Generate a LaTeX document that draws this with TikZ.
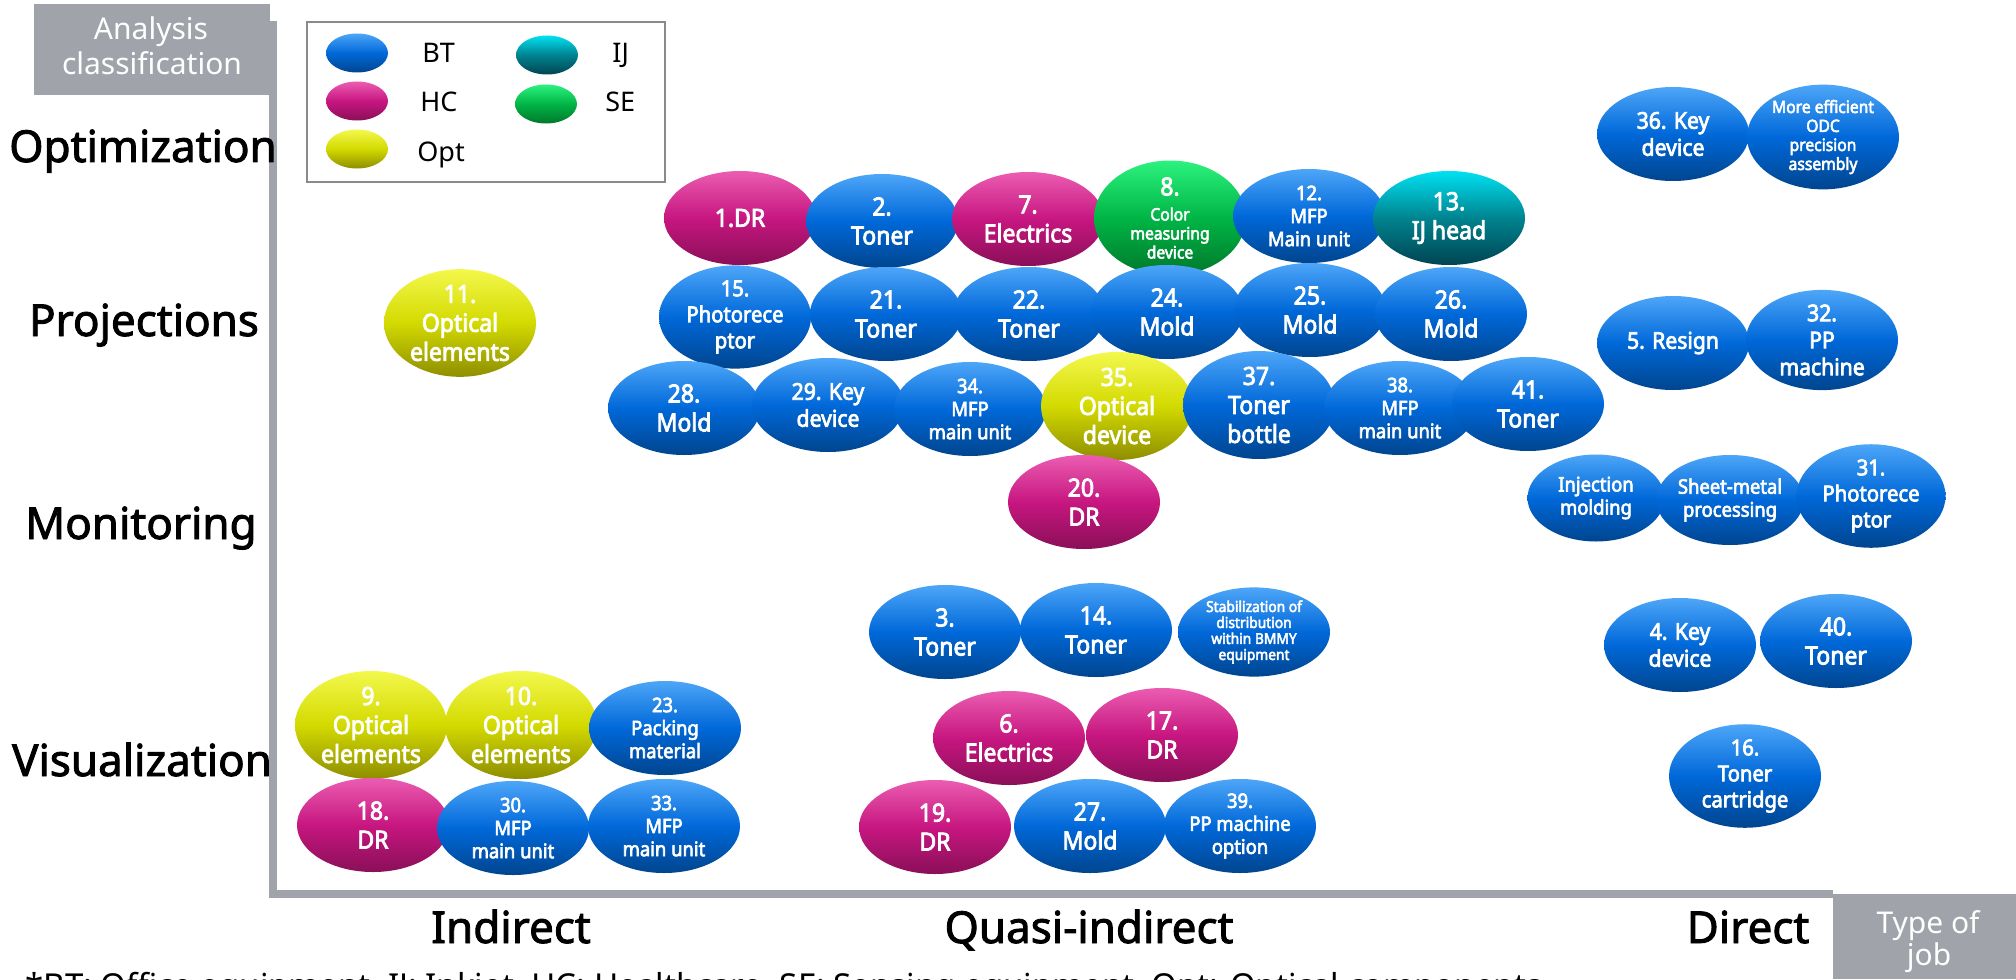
\documentclass[tikz,border=0pt]{standalone}
\usepackage{fontspec}
\setmainfont{Noto Sans}
\newfontfamily\labf[FakeBold=2]{Noto Sans}
\newfontfamily\bubf[FakeStretch=0.92,FakeBold=3.2]{Noto Sans}
\usetikzlibrary{shapes.geometric}

% gradient colours (top / middle / bottom)
\definecolor{btT}{HTML}{4DA6F8}\definecolor{btM}{HTML}{0068D9}\definecolor{btB}{HTML}{00458F}
\definecolor{hcT}{HTML}{EB5DB1}\definecolor{hcM}{HTML}{C71680}\definecolor{hcB}{HTML}{8A0F58}
\definecolor{opT}{HTML}{F3F84C}\definecolor{opM}{HTML}{D3DA00}\definecolor{opB}{HTML}{8E8E00}
\definecolor{seT}{HTML}{2CF27F}\definecolor{seM}{HTML}{00B545}\definecolor{seB}{HTML}{00782C}
\definecolor{ijT}{HTML}{00E1F2}\definecolor{ijM}{HTML}{00838F}\definecolor{ijB}{HTML}{004452}
\definecolor{axg}{HTML}{A0A3AA}
\definecolor{legline}{HTML}{8A8A8A}

\tikzset{
  bub/.style={ellipse, minimum width=76pt, minimum height=47pt, inner sep=0pt,
    align=center, text=white, font=\bubf\fontsize{12.5}{14.5}\selectfont},
  bt/.style={bub, top color=btT, bottom color=btB, middle color=btM},
  hc/.style={bub, top color=hcT, bottom color=hcB, middle color=hcM},
  opt/.style={bub, top color=opT, bottom color=opB, middle color=opM},
  se/.style={bub, top color=seT, bottom color=seB, middle color=seM},
  ij/.style={bub, top color=ijT, bottom color=ijB, middle color=ijM},
  fsA/.style={font=\bubf\fontsize{11.5}{13.5}\selectfont},
  fsB/.style={font=\bubf\fontsize{11}{13}\selectfont},
  fsC/.style={font=\bubf\fontsize{10}{11.5}\selectfont},
  fsD/.style={font=\bubf\fontsize{8.5}{9.5}\selectfont},
  fsE/.style={font=\bubf\fontsize{7.5}{8}\selectfont},
  legdot/.style={minimum width=31pt, minimum height=19.5pt},
  leglab/.style={anchor=base west, inner sep=0pt, font=\fontsize{13.5}{16}\selectfont},
  rowlab/.style={anchor=base, inner sep=0pt, font=\labf\fontsize{22}{26}\selectfont},
  graylab/.style={anchor=base, inner sep=0pt, text=white, font=\fontsize{15}{18}\selectfont},
}

\begin{document}
\begin{tikzpicture}[x=0.5pt, y=-0.5pt]
\useasboundingbox (0,0) rectangle (2016,979);
\fill[white] (0,0) rectangle (2016,979);

% axes and corner labels
\fill[axg] (269,21) rectangle (277,898);
\fill[axg] (269,890) rectangle (1833,898);
\fill[axg] (34,4) rectangle (270,95);
\fill[axg] (1833,894) rectangle (2016,979);
\node[graylab] (ac1) at (151,40) {Analysis};
\node[graylab] (ac2) at (152,75) {classification};
\node[graylab] (tj1) at (1928,933) {Type of};
\node[graylab] (tj2) at (1929,965) {job};

% row labels
\node[rowlab] (lOpt) at (143,162) {Optimization};
\node[rowlab] (lPro) at (144,336) {Projections};
\node[rowlab] (lMon) at (141,539) {Monitoring};
\node[rowlab] (lVis) at (142,776) {Visualization};

% column labels
\node[rowlab] (cInd) at (511,943) {Indirect};
\node[rowlab] (cQua) at (1089,943) {Quasi-indirect};
\node[rowlab] (cDir) at (1748,943) {Direct};

% legend
\draw[legline, line width=1pt] (307,22) rectangle (665,182);
\node[bt, legdot] (kBT) at (357,53) {};
\node[hc, legdot] (kHC) at (357,101) {};
\node[opt, legdot] (kOp) at (357,149) {};
\node[ij, legdot] (kIJ) at (547,55) {};
\node[se, legdot] (kSE) at (546,104) {};
\node[leglab] (tBT) at (422,63) {BT};
\node[leglab] (tHC) at (420,112) {HC};
\node[leglab] (tOp) at (417,161) {Opt};
\node[leglab] (tIJ) at (612,63) {IJ};
\node[leglab] (tSE) at (605,112) {SE};

% optimization row
\node[hc] (n1) at (740,218) {1.DR};
\node[bt] (n2) at (882,221) {2.\\Toner};
\node[hc] (n7) at (1028,219) {7.\\Electrics};
\node[se, fsD] (n8) at (1170,218) {{\fontsize{12.5}{14.5}\selectfont 8.}\\[3pt]Color\\measuring\\device};
\node[bt, fsC] (n12) at (1309,216) {12.\\MFP\\Main unit};
\node[ij] (n13) at (1449,218) {13.\\IJ head};

\node[bt, fsA] (n36) at (1673,134) {36. Key\\device};
\node[bt, fsD] (nODC) at (1823,137) {More efficient\\ODC\\precision\\assembly};

% projections rows
\node[opt] (n11) at (460,323) {11.\\Optical\\elements};
\node[bt, fsB] (n15) at (735,317) {15.\\Photorece\\ptor};
\node[bt] (n21) at (886,314) {21.\\Toner};
\node[bt] (n22) at (1029,314) {22.\\Toner};
\node[bt] (n24) at (1167,312) {24.\\Mold};
\node[bt] (n25) at (1310,310) {25.\\Mold};
\node[bt] (n26) at (1451,314) {26.\\Mold};

\node[bt] (n28) at (684,408) {28.\\Mold};
\node[bt, fsA] (n29) at (828,405) {29. Key\\device};
\node[bt, fsC] (n34) at (970,409) {34.\\MFP\\main unit};
\node[opt] (n35) at (1117,406) {35.\\Optical\\device};
\node[bt] (n37) at (1259,405) {37.\\Toner\\bottle};
\node[bt, fsC] (n38) at (1400,408) {38.\\MFP\\main unit};
\node[bt] (n41) at (1528,404) {41.\\Toner};

\node[bt, fsA] (n5) at (1673,343) {5. Resign};
\node[bt, fsA] (n32) at (1822,340) {32.\\PP\\machine};

% monitoring row
\node[hc] (n20) at (1084,502) {20.\\DR};
\node[bt, fsC, minimum width=68.5pt, minimum height=43.5pt] (nInj) at (1596,498) {Injection\\molding};
\node[bt, fsC, minimum width=73pt, minimum height=45pt] (nShe) at (1730,500) {Sheet-metal\\processing};
\node[bt, fsB, minimum width=74.5pt] (n31) at (1871,496) {31.\\Photorece\\ptor};

% visualization rows
\node[bt] (n3) at (945,632) {3.\\Toner};
\node[bt] (n14) at (1096,630) {14.\\Toner};
\node[bt, fsE, minimum height=43.5pt] (nSta) at (1254,632) {Stabilization of\\distribution\\within BMMY\\equipment};
\node[bt, fsA] (n4) at (1680,645) {4. Key\\device};
\node[bt] (n40) at (1836,641) {40.\\Toner};

\node[opt] (n9) at (371,725) {9.\\Optical\\elements};
\node[opt] (n10) at (521,725) {10.\\Optical\\elements};
\node[bt, fsC] (n23) at (665,728) {23.\\Packing\\material};
\node[hc] (n6) at (1009,738) {6.\\Electrics};
\node[hc] (n17) at (1162,735) {17.\\DR};
\node[bt, fsB] (n16) at (1745,776) {16.\\Toner\\cartridge};

\node[hc] (n18) at (373,825) {18.\\DR};
\node[bt, fsC] (n30) at (513,828) {30.\\MFP\\main unit};
\node[bt, fsC] (n33) at (664,826) {33.\\MFP\\main unit};
\node[hc] (n19) at (935,827) {19.\\DR};
\node[bt] (n27) at (1090,826) {27.\\Mold};
\node[bt, fsC] (n39) at (1240,826) {39.\\PP machine\\option};

% footnote, running off the lower edge
\node[anchor=base west, inner sep=0pt, font=\fontsize{16.5}{19}\selectfont] (fn) at (25,997)
  {*BT: Office equipment, IJ: Inkjet, HC: Healthcare, SE: Sensing equipment, Opt: Optical components};
\end{tikzpicture}
\end{document}
